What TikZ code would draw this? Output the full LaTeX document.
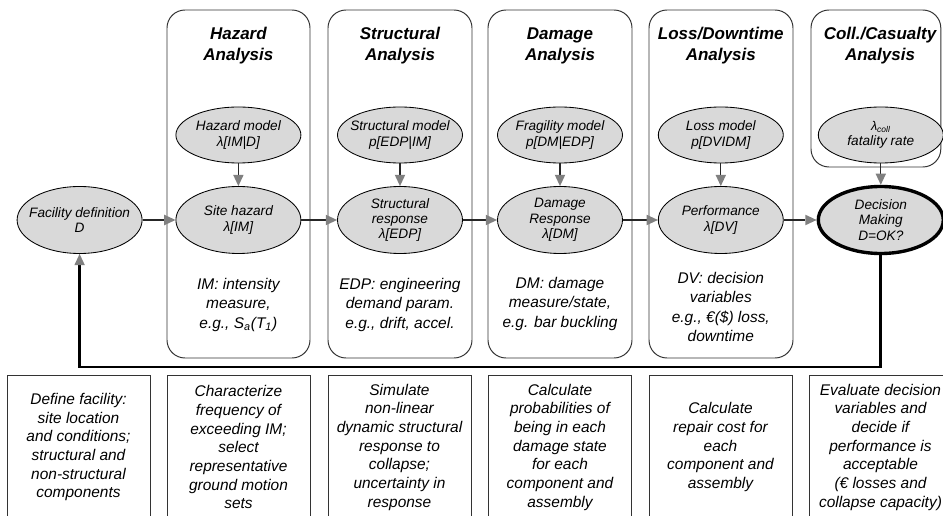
\documentclass[tikz,border=0pt]{standalone}
\usepackage{fontspec}
\setmainfont{Liberation Sans}
\usetikzlibrary{shapes.geometric,arrows.meta}

\begin{document}
\begin{tikzpicture}[
    panel/.style={draw=black!80, line width=0.7pt, rounded corners=0.45cm},
    oval/.style={ellipse, draw=black, line width=0.6pt, fill=black!15, minimum width=3.125cm, minimum height=1.4cm, inner sep=0pt},
    lowoval/.style={oval, minimum height=1.675cm},
    ovaltext/.style={font=\fontsize{9.7}{11}\selectfont\itshape, align=center, inner sep=0pt},
    heading/.style={font=\fontsize{12.1}{14.9}\selectfont\bfseries\itshape, align=center},
    note/.style={font=\fontsize{11}{13.9}\selectfont\itshape, align=center},
    taskbox/.style={draw=black!80, line width=0.6pt, minimum width=3.575cm, minimum height=3.6cm, font=\fontsize{11}{13.3}\selectfont\itshape, align=center},
    flow/.style={draw=black!85, line width=0.8pt, -{Triangle[length=8pt, width=7.5pt, color=black!50, line width=0pt]}},
    feedback/.style={flow, draw=black, line width=2.1pt}
]

            \useasboundingbox (0,0) rectangle (23.575,12.9);
            \clip (0,0) rectangle (23.575,12.9);

            \draw[panel] (4.175,3.95) rectangle (7.75,12.65);
            \draw[panel] (8.2,3.95) rectangle (11.8,12.65);
            \draw[panel] (12.2,3.95) rectangle (15.8,12.65);
            \draw[panel] (16.225,3.95) rectangle (19.825,12.65);
            \draw[panel] (20.275,8.725) rectangle (23.52,12.65);

            \node[heading] (haz-title) at (5.96,11.75) {Hazard\\Analysis};
            \node[heading] (str-title) at (10.0,11.75) {Structural\\Analysis};
            \node[heading] (dam-title) at (14.0,11.75) {Damage\\Analysis};
            \node[heading] (loss-title) at (18.02,11.75) {Loss/Downtime\\Analysis};
            \node[heading] (coll-title) at (22.0,11.75) {Coll./Casualty\\Analysis};

            \node[oval] (hazmodel) at (5.96,9.525) {};
            \node[ovaltext] (hazmodel-t) at (hazmodel) {Hazard model\\λ[IM|D]};
            \node[oval] (strmodel) at (10.0,9.525) {};
            \node[ovaltext] (strmodel-t) at (strmodel) {Structural model\\p[EDP|IM]};
            \node[oval] (fragmodel) at (14.0,9.525) {};
            \node[ovaltext] (fragmodel-t) at (fragmodel) {Fragility model\\p[DM|EDP]};
            \node[oval] (lossmodel) at (18.02,9.525) {};
            \node[ovaltext] (lossmodel-t) at (lossmodel) {Loss model\\p[DVIDM]};
            \node[oval] (lcoll) at (22.02,9.525) {};
            \node[ovaltext] (lcoll-t) at (lcoll) {{\small λ\textsubscript{coll}}\\fatality rate};

            \node[lowoval] (facility) at (1.99,7.4) {};
            \node[ovaltext] (facility-t) at (facility) {Facility definition\\D};
            \node[lowoval] (site) at (5.96,7.4) {};
            \node[ovaltext] (site-t) at (site) {Site hazard\\λ[IM]};
            \node[lowoval] (strresp) at (10.0,7.4) {};
            \node[ovaltext] (strresp-t) at (strresp) {Structural\\response\\λ[EDP]};
            \node[lowoval] (damresp) at (14.0,7.4) {};
            \node[ovaltext] (damresp-t) at (damresp) {Damage\\Response\\λ[DM]};
            \node[lowoval] (perf) at (18.02,7.4) {};
            \node[ovaltext] (perf-t) at (perf) {Performance\\λ[DV]};
            \node[lowoval, line width=2.4pt] (decision) at (22.02,7.4) {};
            \node[ovaltext] (decision-t) at (decision) {Decision\\Making\\D=OK?};

            \draw[flow] (hazmodel) -- (site);
            \draw[flow] (strmodel) -- (strresp);
            \draw[flow] (fragmodel) -- (damresp);
            \draw[flow] (lossmodel) -- (perf);
            \draw[flow] (lcoll) -- (decision);

            \draw[flow] (facility) -- (site);
            \draw[flow] (site) -- (strresp);
            \draw[flow] (strresp) -- (damresp);
            \draw[flow] (damresp) -- (perf);
            \draw[flow] (perf) -- (decision);

            \coordinate (turn) at (1.99,3.725);
            \draw[feedback] (decision.south) |- (turn) -- (facility.south);

            \node[note] (haz-note) at (5.96,5.275) {IM: intensity\\measure,\\e.g., S\textsubscript{a}(T\textsubscript{1})};
            \node[note] (str-note) at (10.0,5.275) {EDP: engineering\\demand param.\\e.g., drift, accel.};
            \node[note] (dam-note) at (14.0,5.3) {DM: damage\\measure/state,\\e.g. bar buckling};
            \node[note] (loss-note) at (18.02,5.225) {DV: decision\\variables\\e.g., €(\$) loss,\\downtime};

            \node[taskbox] (task-def) at (1.9625,1.72) {Define facility:\\site location\\and conditions;\\structural and\\non-structural\\components};
            \node[taskbox] (task-haz) at (5.9625,1.72) {Characterize\\frequency of\\exceeding IM;\\select\\representative\\ground motion\\sets};
            \node[taskbox] (task-str) at (9.9875,1.72) {Simulate\\non-linear\\dynamic structural\\response to\\collapse;\\uncertainty in\\response};
            \node[taskbox] (task-dam) at (14.0,1.72) {Calculate\\probabilities of\\being in each\\damage state\\for each\\component and\\assembly};
            \node[taskbox] (task-loss) at (18.0125,1.72) {Calculate\\repair cost for\\each\\component and\\assembly};
            \node[taskbox] (task-dec) at (22.0125,1.72) {Evaluate decision\\variables and\\decide if\\performance is\\acceptable\\(€ losses and\\collapse capacity)};

        \end{tikzpicture}
\end{document}
